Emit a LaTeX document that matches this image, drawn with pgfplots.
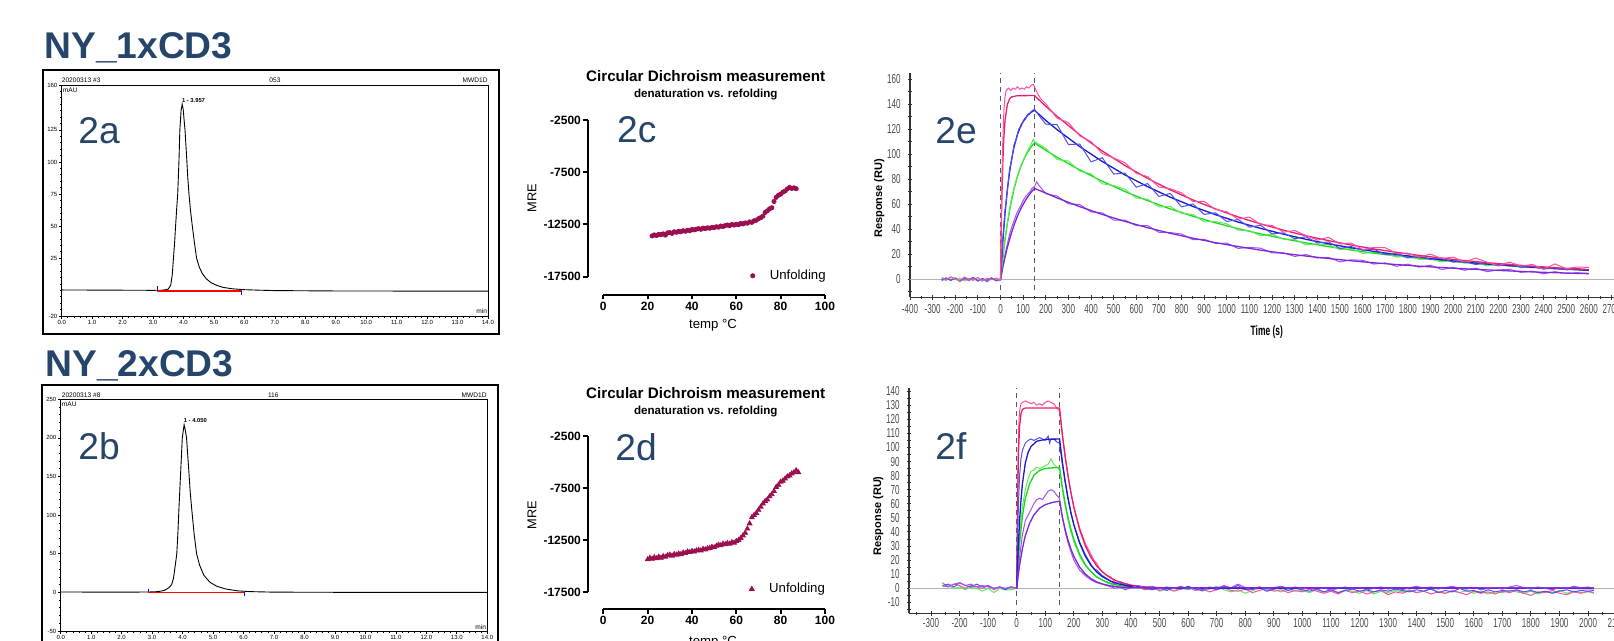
\documentclass[border=0pt]{standalone}
\usepackage{fontspec}
\setmainfont{Liberation Sans}
\newfontfamily\cond[FakeStretch=0.62]{Liberation Sans}
\usepackage{pgfplots}
\pgfplotsset{compat=1.18}
\newcommand{\fs}[1]{\fontsize{#1}{#1}\selectfont}
\definecolor{navy}{RGB}{37,69,107}
\definecolor{cdred}{RGB}{155,15,80}
\definecolor{pinkm}{RGB}{250,80,160}
\definecolor{pinkf}{RGB}{235,30,110}
\definecolor{bluem}{RGB}{80,80,240}
\definecolor{bluef}{RGB}{25,25,205}
\definecolor{greenm}{RGB}{90,235,90}
\definecolor{greenf}{RGB}{30,215,30}
\definecolor{purpm}{RGB}{165,80,240}
\definecolor{purpf}{RGB}{125,40,215}
\pgfplotsset{
  /pgf/number format/assume math mode=true,
  /pgf/number format/1000 sep={},
  hplc/.style={scale only axis, anchor=south west, xmin=0, xmax=14,
    axis line style={line width=0.45pt},
    xtick={0,1,...,14}, minor x tick num=4,
    xticklabel style={/pgf/number format/.cd, fixed, fixed zerofill, precision=1},
    tick align=outside, xtick pos=bottom, ytick pos=left,
    major tick length=1.4pt, minor tick length=0.8pt,
    tick style={line width=0.35pt, black},
    ticklabel style={font=\fs{3}, inner sep=0.6pt}},
  prism/.style={scale only axis, anchor=south west, xmin=-7.04, xmax=100,
    separate axis lines, axis x line*=bottom, axis y line*=left,
    axis line style={line width=1pt},
    x axis line style={shorten <=7.8pt},
    scaled y ticks=false, scaled x ticks=false,
    xtick={0,20,...,100}, ytick={-17500,-12500,-7500,-2500},
    tick align=outside, major tick length=2.2pt,
    tick style={line width=1pt, black},
    ticklabel style={font=\bfseries\fs{6}, inner sep=1pt},
    legend style={draw=none, fill=none, font=\fs{6.6}, inner sep=0pt,
      column sep=5.5pt, legend cell align=left},
    legend image code/.code={\draw[##1, only marks] plot coordinates {(3pt,0pt)};}},
  spr/.style={scale only axis, anchor=south west,
    axis x line*=bottom, axis y line*=left,
    axis line style={line width=0.6pt, black!80, -},
    tick align=center, major tick length=2.4pt, minor tick length=1.6pt,
    tick style={line width=0.5pt, black!80},
    minor tick style={line width=0.4pt, black!80},
    ticklabel style={font=\cond\fs{6.5}, text=black!70}},
}
\begin{document}
\begin{tikzpicture}
\useasboundingbox (0pt,0pt) rectangle (807pt,-320.5pt);

% ---------- 2a : HPLC ----------
\begin{axis}[hplc, width=213.15pt, height=115.5pt, at={(30.85pt,-158pt)},
  ymin=-20, ymax=160,
  ytick={-20,25,50,75,100,125,160}, minor ytick={-15,-10,...,155}]
\addplot[black, line width=0.45pt] coordinates {
  (0,0.3) (1,0.2) (2,0.1) (3,0) (3.3,0.1) (3.42,0.5) (3.5,1) (3.58,4)
  (3.63,12) (3.67,25) (3.71,38) (3.74,50) (3.78,65) (3.81,75) (3.85,100)
  (3.88,125) (3.92,140) (3.957,145) (3.99,141) (4.03,130) (4.05,125)
  (4.1,105) (4.14,88) (4.18,75) (4.23,62) (4.29,50) (4.36,37) (4.43,25)
  (4.52,18) (4.62,13) (4.75,9) (4.9,6) (5.1,3.8) (5.3,2.3) (5.6,1.2)
  (6,0.5) (6.5,0.1) (7,-0.2) (9,-0.5) (12,-0.6) (14,-0.6)};
\addplot[red, line width=0.6pt] coordinates {(3.14,-0.6) (5.91,-0.6)};
\addplot[blue, line width=0.4pt] coordinates {(3.14,-0.6) (3.14,3)};
\addplot[blue, line width=0.4pt] coordinates {(5.91,-3.5) (5.91,-0.6)};
\node[anchor=south west, inner sep=0pt, font=\bfseries\fs{2.9}] at (axis cs:3.94,146) {1 - 3.957};
\end{axis}

% ---------- 2b : HPLC ----------
\begin{axis}[hplc, width=213.3pt, height=115.85pt, at={(30.35pt,-315.5pt)},
  ymin=-50, ymax=250,
  ytick={-50,0,...,250}, minor ytick={-40,-30,...,240}]
\addplot[black, line width=0.45pt] coordinates {
  (0,0.5) (2,0.3) (2.9,0.5) (3.2,1) (3.4,2.5) (3.55,6) (3.64,10) (3.7,18)
  (3.76,35) (3.81,50) (3.85,80) (3.88,108) (3.93,150) (3.99,200) (4.05,217)
  (4.09,210) (4.13,200) (4.2,160) (4.25,130) (4.3,108) (4.38,75) (4.46,50)
  (4.56,35) (4.7,22) (4.9,13) (5.12,8) (5.4,4.5) (5.8,2) (6.2,1) (7,0.3)
  (10,0) (14,0)};
\addplot[red, line width=0.6pt] coordinates {(2.88,0) (6.02,0)};
\addplot[blue, line width=0.4pt] coordinates {(2.88,0) (2.88,5)};
\addplot[blue, line width=0.4pt] coordinates {(6.02,-5) (6.02,0)};
\node[anchor=south west, inner sep=0pt, font=\bfseries\fs{2.9}] at (axis cs:4.03,219) {1 - 4.050};
\end{axis}

% ---------- 2c : CD ----------
\begin{axis}[prism, width=118.65pt, height=87.5pt, at={(293.85pt,-147.5pt)},
  ymin=-19252, ymax=-2500, y axis line style={shorten <=9.15pt},
  legend style={at={(0.685,0.11)}, anchor=west}]
\addplot[only marks, mark=*, mark size=1.05pt, cdred] coordinates {
  (22,-13600) (23,-13500) (24,-13560) (25,-13450) (26,-13480) (27,-13400)
  (28,-13520) (29,-13300) (30,-13280) (31,-13350) (32,-13200) (33,-13250)
  (34,-13150) (35,-13200) (36,-13100) (37,-13150) (38,-13050) (39,-13100)
  (40,-12980) (41,-13020) (42,-12950) (43,-12900) (44,-12960) (45,-12850)
  (46,-12900) (47,-12820) (48,-12860) (49,-12780) (50,-12800) (51,-12720)
  (52,-12760) (53,-12650) (54,-12700) (55,-12600) (56,-12550) (57,-12620)
  (58,-12500) (59,-12560) (60,-12480) (61,-12520) (62,-12400) (63,-12450)
  (64,-12350) (65,-12380) (66,-12250) (67,-12300) (68,-12150) (69,-12100)
  (70,-11950) (71,-11850) (72,-11700) (73,-11350) (74,-11200) (75,-11000)
  (76,-10900) (77,-10300) (78,-9900) (79,-9700) (80,-9600) (81,-9400)
  (82,-9300) (83,-9100) (84,-8950) (85,-9050) (86,-9000) (87,-9080)};
\addlegendentry{Unfolding}
\end{axis}

% ---------- 2d : CD ----------
\begin{axis}[prism, width=118.65pt, height=86.65pt, at={(293.85pt,-304.65pt)},
  ymin=-19131, ymax=-2500, y axis line style={shorten <=8.5pt},
  legend style={at={(0.68,0.117)}, anchor=west}]
\addplot[only marks, mark=triangle*, mark size=1.35pt, cdred] coordinates {
  (20,-14350) (21,-14200) (22,-14300) (23,-14150) (24,-14250) (25,-14100)
  (26,-14200) (27,-14050) (28,-14100) (29,-13950) (30,-13900) (31,-14000)
  (32,-13850) (33,-13900) (34,-13800) (35,-13850) (36,-13700) (37,-13750)
  (38,-13600) (39,-13650) (40,-13550) (41,-13600) (42,-13500) (43,-13450)
  (44,-13500) (45,-13350) (46,-13400) (47,-13300) (48,-13250) (49,-13150)
  (50,-13200) (51,-13050) (52,-12950) (53,-13000) (54,-12850) (55,-12900)
  (56,-12800) (57,-12850) (58,-12700) (59,-12750) (60,-12600) (61,-12500)
  (62,-12300) (63,-12050) (64,-11800) (65,-11400) (66,-10900) (67,-10300)
  (68,-10100) (69,-9900) (70,-9600) (71,-9300) (72,-9000) (73,-8750)
  (74,-8600) (75,-8300) (76,-8100) (77,-7800) (78,-7400) (79,-7200)
  (80,-6900) (81,-6800) (82,-6600) (83,-6400) (84,-6300) (85,-6100)
  (86,-6000) (87,-5800) (88,-6000)};
\addlegendentry{Unfolding}
\end{axis}

% ---------- 2e : SPR ----------
\begin{axis}[spr, width=356.4pt, height=112pt, at={(455pt,-148.65pt)},
  xmin=-400, xmax=2750, ymin=-14.4, ymax=164.8,
  xtick={-400,-300,...,2700}, minor xtick={-350,-250,...,2650},
  ytick={0,20,...,160}, minor ytick={-10,10,...,150},
  xticklabel style={yshift=1.2pt}]
\addplot[black!30, line width=0.7pt] coordinates {(-400,0) (2750,0)};
\addplot[black!65, line width=0.6pt, dash pattern=on 2.5pt off 2pt] coordinates {(0,-8.6) (0,164.8)};
\addplot[black!65, line width=0.6pt, dash pattern=on 2.5pt off 2pt] coordinates {(150,-8.6) (150,164.8)};
% purple
\addplot[purpm, line width=0.5pt] coordinates {
  (-260,-1.0) (-240,0.5) (-220,-0.5) (-200,1.2) (-180,-1.8) (-160,0.3) (-140,-1.0)
  (-120,0.8) (-100,-1.5) (-80,0.2) (-60,-2.0) (-40,0.6) (-20,-1.2) (0,-1.0)
  (10,10) (20,20) (30,28) (40,36) (50,42) (60,47) (70,52) (80,56) (90,59)
  (100,63) (110,66) (120,68) (130,70) (140,73) (150,74) (160,78) (170,75)
  (200,68.5) (250,66.6) (300,60.3) (350,59.9) (400,53.9) (450,53.1) (500,47.4)
  (550,47.3) (600,42.9) (650,42.9) (700,37.6) (750,37.4) (800,36.2) (850,31.7)
  (900,32.0) (950,28.7) (1000,28.9) (1050,24.7) (1100,25.5) (1150,24.9)
  (1200,21.1) (1250,21.2) (1300,18.3) (1350,19.8) (1400,17.0) (1450,17.6)
  (1500,13.9) (1550,15.6) (1600,15.2) (1650,12.2) (1700,13.1) (1750,10.4)
  (1800,12.1) (1850,9.7) (1900,11.3) (1950,7.8) (2000,9.5) (2050,7.2)
  (2100,8.9) (2150,6.1) (2200,7.5) (2250,7.9) (2300,5.5) (2350,6.5)
  (2400,4.4) (2450,6.1) (2500,4.6) (2550,5.3) (2600,4.7)};
\addplot[purpf, line width=0.65pt] coordinates {
  (0,0) (10,9.4) (20,17.8) (30,25.3) (45,35.1) (60,43.5) (75,50.6) (90,56.6)
  (105,61.6) (120,66.0) (135,69.6) (150,72.7) (200,69.0) (250,65.1) (350,58.1)
  (450,51.9) (550,46.3) (650,41.3) (750,36.8) (850,32.9) (950,29.3) (1050,26.2)
  (1150,23.3) (1250,20.8) (1350,18.6) (1450,16.6) (1550,14.8) (1650,13.2)
  (1750,11.8) (1850,10.5) (1950,9.4) (2050,8.4) (2150,7.5) (2250,6.7)
  (2350,5.9) (2450,5.3) (2550,4.7) (2600,4.5)};
% green
\addplot[greenf, line width=0.65pt] coordinates {
  (0,0) (10,17.0) (20,31.6) (30,44.2) (45,59.9) (60,72.4) (75,82.4) (90,90.4)
  (105,96.7) (120,101.8) (135,105.9) (150,109.1) (200,103.2) (250,97.6)
  (350,87.5) (450,78.4) (550,70.2) (650,62.9) (750,56.3) (850,50.5) (950,45.2)
  (1050,40.5) (1150,36.3) (1250,32.5) (1350,29.1) (1450,26.1) (1550,23.4)
  (1650,20.9) (1750,18.7) (1850,16.8) (1950,15.1) (2050,13.5) (2150,12.1)
  (2250,10.8) (2350,9.7) (2450,8.7) (2550,7.8) (2600,7.4)};
\addplot[greenm, line width=0.5pt] coordinates {
  (-260,0.8) (-240,-1.0) (-220,1.5) (-200,-0.5) (-180,1.0) (-160,-1.2) (-140,0.4)
  (-120,1.2) (-100,-0.8) (-80,0.5) (-60,-1.0) (-40,1.0) (-20,-0.4) (0,-0.5)
  (10,18) (20,33) (30,45) (40,56) (50,66) (60,73) (70,80) (80,86) (90,91)
  (100,95) (110,99) (120,103) (130,106) (140,110) (145,112) (150,110) (170,108)
  (200,104.7) (250,95.8) (300,94.6) (350,86.5) (400,84.4) (450,76.4) (500,75.0)
  (550,72.0) (600,65.0) (650,64.1) (700,57.9) (750,58.3) (800,52.7) (850,51.9)
  (900,46.0) (950,46.2) (1000,44.4) (1050,39.3) (1100,38.9) (1150,34.8)
  (1200,36.1) (1250,32.1) (1300,32.0) (1350,27.5) (1400,28.4) (1450,27.6)
  (1500,23.7) (1550,24.6) (1600,20.7) (1650,21.5) (1700,21.0) (1750,17.7)
  (1800,19.1) (1850,16.0) (1900,16.3) (1950,13.9) (2000,15.8) (2050,12.9)
  (2100,13.8) (2150,10.7) (2200,12.2) (2250,12.0) (2300,9.2) (2350,10.3)
  (2400,8.4) (2450,9.7) (2500,7.7) (2550,8.6) (2600,7.1)};
% blue
\addplot[bluef, line width=0.65pt] coordinates {
  (0,0) (10,29.7) (20,53.0) (30,71.3) (40,85.8) (50,97.1) (60,106.1) (75,116.0)
  (90,123.0) (105,127.8) (120,131.2) (135,133.6) (150,135.2) (200,127.1)
  (250,119.7) (350,106.2) (450,94.2) (550,83.5) (650,74.1) (750,65.7)
  (850,58.3) (950,51.7) (1050,45.8) (1150,40.7) (1250,36.1) (1350,32.0)
  (1450,28.4) (1550,25.2) (1650,22.3) (1750,19.8) (1850,17.6) (1950,15.6)
  (2050,13.8) (2150,12.2) (2250,10.9) (2350,9.6) (2450,8.5) (2550,7.6) (2600,7.1)};
\addplot[bluem, line width=0.5pt] coordinates {
  (-260,-0.5) (-240,1.2) (-220,-1.0) (-200,0.8) (-180,-1.5) (-160,1.0) (-140,-0.3)
  (-120,1.5) (-100,-1.2) (-80,0.6) (-60,-0.8) (-40,1.2) (-20,-1.0) (0,0)
  (10,32) (20,55) (30,70) (40,88) (50,96) (60,108) (70,112) (80,120) (90,122)
  (100,126) (110,128) (120,132) (130,133) (140,135) (150,136) (170,131)
  (200,124.1) (250,123.7) (300,107.8) (350,108.2) (400,94.0) (450,97.2)
  (500,84.2) (550,85.0) (600,73.7) (650,76.6) (700,66.3) (750,68.7) (800,57.9)
  (850,60.3) (900,51.9) (950,53.2) (1000,46.2) (1050,47.8) (1100,41.7)
  (1150,43.2) (1200,36.3) (1250,37.1) (1300,32.5) (1350,34.0) (1400,29.1)
  (1450,29.9) (1500,24.7) (1550,26.2) (1600,23.2) (1650,24.1) (1700,19.8)
  (1750,20.6) (1800,17.1) (1850,18.8) (1900,15.9) (1950,17.0) (2000,13.7)
  (2050,14.3) (2100,11.8) (2150,13.2) (2200,10.7) (2250,12.1) (2300,9.7)
  (2350,10.4) (2400,8.1) (2450,9.1) (2500,7.6) (2550,8.5) (2600,7.6)};
% pink
\addplot[pinkf, line width=0.65pt] coordinates {
  (0,0) (5,57.8) (10,92.9) (15,114.2) (20,127.1) (30,139.7) (40,144.3) (50,146.0)
  (75,146.9) (150,147.0) (200,138.4) (250,130.4) (350,115.6) (450,102.6)
  (550,91.0) (650,80.7) (750,71.6) (850,63.5) (950,56.3) (1050,49.9) (1150,44.3)
  (1250,39.3) (1350,34.8) (1450,30.9) (1550,27.4) (1650,24.3) (1750,21.6)
  (1850,19.1) (1950,16.9) (2050,15.0) (2150,13.3) (2250,11.8) (2350,10.5)
  (2450,9.3) (2550,8.2) (2600,7.8)};
\addplot[pinkm, line width=0.5pt] coordinates {
  (-260,1.5) (-240,-0.5) (-220,2.0) (-200,0.3) (-180,-1.2) (-160,1.8) (-140,0.2)
  (-120,-0.8) (-100,1.5) (-80,-1.5) (-60,0.8) (-40,-0.3) (-20,1.0) (0,-0.5)
  (5,70) (10,110) (15,135) (20,146) (25,151) (35,153) (45,151) (55,153) (65,152)
  (75,154) (85,152) (95,153) (105,152) (115,154) (125,153) (135,155) (145,156)
  (150,154) (165,148) (180,144)
  (200,140.4) (250,128.9) (300,125.3) (350,114.8) (400,110.1) (450,100.6)
  (500,97.1) (550,93.2) (600,84.7) (650,82.2) (700,73.8) (750,72.4) (800,69.2)
  (850,62.3) (900,62.3) (950,55.8) (1000,54.0) (1050,48.1) (1100,49.8)
  (1150,43.7) (1200,43.1) (1250,37.7) (1300,39.0) (1350,35.0) (1400,31.4)
  (1450,33.5) (1500,28.3) (1550,29.0) (1600,23.8) (1650,25.5) (1700,25.3)
  (1750,20.6) (1800,20.9) (1850,17.5) (1900,20.2) (1950,16.5) (2000,17.8)
  (2050,13.8) (2100,17.0) (2150,13.7) (2200,11.1) (2250,13.8) (2300,10.5)
  (2350,11.9) (2400,8.1) (2450,12.3) (2500,8.6) (2550,9.8) (2600,9.5)};
\end{axis}

% ---------- 2f : SPR ----------
\begin{axis}[spr, width=355.25pt, height=112.8pt, at={(454.5pt,-306.65pt)},
  xmin=-377, xmax=2110, ymin=-17.7, ymax=142.4,
  xtick={-300,-200,...,2100}, minor xtick={-350,-250,...,2050},
  ytick={-10,0,...,140}, minor ytick={-15,-5,...,135},
  xticklabel style={yshift=2pt}]
\addplot[black!30, line width=0.7pt] coordinates {(-377,0) (2110,0)};
\addplot[black!65, line width=0.6pt, dash pattern=on 2.5pt off 2pt] coordinates {(0,-11.9) (0,142.4)};
\addplot[black!65, line width=0.6pt, dash pattern=on 2.5pt off 2pt] coordinates {(150,-11.9) (150,142.4)};
% green
\addplot[greenm, line width=0.5pt] coordinates {
  (-260,1) (-240,2) (-220,0) (-200,1) (-180,-1) (-160,1) (-140,0) (-120,-2)
  (-100,0) (-80,-3) (-60,0) (-40,-1) (-20,-1) (0,0)
  (5,20) (10,38) (20,58) (30,70) (40,78) (50,83) (60,84) (70,86) (80,85) (90,86)
  (100,87) (110,88) (120,92) (130,88) (140,86) (150,84)
  (160,70) (170,58) (180,48) (190,40) (200,33) (220,23) (240,16) (260,12)
  (280,8) (300,6) (315,4) (330,3) (345,1) (360,2) (380,0) (400,1)
  (425,0.5) (450,-1) (475,1) (500,-2) (525,-0.5) (550,-1.5) (575,0) (600,-1)
  (625,0.5) (650,-2) (675,-0.5) (700,1.5) (725,-1) (750,-2.5) (775,-1) (800,-3.5)
  (825,-1.5) (850,0) (875,-2) (900,-1) (925,-2.5) (950,-0.5) (975,-2) (1000,-1.5)
  (1025,-3) (1050,-1) (1075,-2.5) (1100,-1.5) (1125,-3) (1150,-1) (1175,-2)
  (1200,-3.5) (1225,-1.5) (1250,-4) (1275,-2) (1300,-3) (1325,-1.5) (1350,-2.5)
  (1375,-1) (1400,-3) (1425,-2) (1450,0.5) (1475,-2.5) (1500,-3.5) (1525,-2)
  (1550,-3) (1575,-1.5) (1600,-3.5) (1625,-2) (1650,-4) (1675,-2.5) (1700,-3)
  (1725,-1.5) (1750,-2.5) (1775,-3.5) (1800,-2) (1825,-4) (1850,-2.5) (1875,-3)
  (1900,-1.5) (1925,-3.5) (1950,-2) (1975,-3) (2000,-2.5) (2020,-3.5)};
\addplot[greenf, line width=0.65pt] coordinates {
  (0,0) (5,17.6) (10,31.7) (20,51.0) (30,63.8) (45,74.1) (60,80.2) (80,83.7)
  (100,85.1) (150,85.9) (160,71.7) (170,59.9) (180,50.0) (190,41.7) (200,34.8)
  (220,24.3) (240,16.9) (260,11.8) (280,8.2) (300,5.8) (330,3.4) (360,2.0)
  (400,1.0) (450,0.4) (2020,0)};
% pink
\addplot[pinkm, line width=0.5pt] coordinates {
  (-260,4) (-240,1) (-220,3) (-200,2) (-180,0) (-160,2) (-140,1) (-120,0)
  (-100,2) (-80,-1) (-60,1) (-40,0) (-20,1) (0,0)
  (3,60) (6,110) (10,126) (15,131) (20,132) (30,133) (40,132) (50,131) (60,132)
  (70,130) (80,131) (90,130) (100,132) (110,133) (120,132) (130,131) (140,128)
  (150,126) (160,108) (170,93) (180,80) (190,68) (200,58) (220,43) (240,32)
  (260,24) (270,20) (280,18) (290,14) (300,12) (315,9) (330,8) (345,4) (360,5)
  (380,3) (400,2)
  (425,1) (450,-1) (475,0.5) (500,-1.5) (525,0) (550,-2) (575,-0.5) (600,1)
  (625,-1.5) (650,-0.5) (675,-2.5) (700,-1) (725,0.5) (750,-1.5) (775,-2)
  (800,-0.5) (825,-3) (850,-1.5) (875,0) (900,-2) (925,-1) (950,-3) (975,-1.5)
  (1000,-2.5) (1025,-0.5) (1050,-2) (1075,-3.5) (1100,-2) (1125,-4) (1150,-1.5)
  (1175,-3) (1200,-2) (1225,-4) (1250,-2.5) (1275,-1.5) (1300,-4.5) (1325,-2.5)
  (1350,-3.5) (1375,-1.5) (1400,-3) (1425,-2) (1450,-4) (1475,-2.5) (1500,-3.5)
  (1525,-1.5) (1550,-3) (1575,-4.5) (1600,-2) (1625,-3.5) (1650,-2.5) (1675,-4)
  (1700,-2) (1725,-3) (1750,-1.5) (1775,-3.5) (1800,-5) (1825,-2.5) (1850,-3)
  (1875,-1.5) (1900,-3.5) (1925,-4.5) (1950,-2.5) (1975,-3.5) (2000,-2) (2020,-3)};
\addplot[pinkf, line width=0.65pt] coordinates {
  (0,0) (3,60) (6,95) (10,115) (15,124) (20,127) (30,128) (150,128) (160,109.1)
  (170,93.0) (180,79.2) (190,67.5) (200,57.5) (220,41.8) (240,30.3) (260,22.0)
  (280,16.0) (300,11.6) (330,7.2) (360,4.5) (400,2.3) (450,1.0) (500,0.5)
  (600,0.1) (2020,0)};
% blue
\addplot[bluem, line width=0.5pt] coordinates {
  (-260,2) (-240,3) (-220,1) (-200,4) (-180,2) (-160,1) (-140,3) (-120,1)
  (-100,2) (-80,0) (-60,1) (-40,-1) (-20,1) (0,0)
  (3,30) (6,60) (10,80) (15,92) (20,98) (30,103) (40,105) (50,106) (60,105)
  (70,106) (80,107) (90,106) (100,105) (110,108) (115,103) (120,106) (130,106)
  (140,104) (150,103) (160,88) (170,75) (180,63) (190,53) (200,45) (220,33)
  (240,24) (260,17) (270,14) (280,13) (300,9) (315,7) (330,5) (345,3) (360,4)
  (380,2) (400,1)
  (425,1.5) (450,0) (475,-1) (500,0.5) (525,-1.5) (550,0.5) (575,-0.5) (600,1.5)
  (625,-0.5) (650,-1.5) (675,0.5) (700,-1) (725,1.5) (750,0) (775,2) (800,-1)
  (825,-0.5) (850,1) (875,-2) (900,-0.5) (925,0.5) (950,-1.5) (975,0) (1000,-1)
  (1025,-2) (1050,-0.5) (1075,-2.5) (1100,-1) (1125,-3) (1150,-1.5) (1175,-0.5)
  (1200,-2) (1225,-1) (1250,-2.5) (1275,-1) (1300,-2) (1325,-0.5) (1350,-1.5)
  (1375,-2.5) (1400,-1) (1425,-2) (1450,-0.5) (1475,-3) (1500,-1.5) (1525,-2.5)
  (1550,0) (1575,-2) (1600,-1.5) (1625,-3) (1650,-1) (1675,-2.5) (1700,-1.5)
  (1725,-2) (1750,-1) (1775,-2.5) (1800,-1.5) (1825,-3) (1850,-2) (1875,-3.5)
  (1900,-2) (1925,-1) (1950,-2.5) (1975,-1.5) (2000,-2) (2020,-1.5)};
\addplot[bluef, line width=0.65pt] coordinates {
  (0,0) (5,27.6) (10,47.8) (15,62.7) (20,74.2) (30,88.8) (40,96.5) (50,100.7)
  (70,104.4) (100,105.7) (150,106) (160,89.4) (170,75.4) (180,63.6) (190,53.6)
  (200,45.2) (220,32.2) (240,22.9) (260,16.3) (280,11.6) (300,8.3) (330,5.0)
  (360,3.0) (400,1.5) (450,0.6) (500,0.2) (2020,0)};
% purple
\addplot[purpm, line width=0.5pt] coordinates {
  (-260,2) (-240,1) (-220,3) (-200,4) (-180,2) (-160,3) (-140,1) (-120,2)
  (-100,1) (-80,0) (-60,1) (-40,0) (-20,1) (0,0)
  (5,12) (10,22) (20,38) (30,48) (40,52) (50,56) (60,60) (70,63) (80,64) (90,63)
  (100,66) (110,69) (120,70) (130,69) (140,66) (150,64) (160,50) (170,40)
  (180,32) (190,26) (200,20) (220,13) (240,9) (260,6) (280,4) (300,3) (315,2)
  (330,1) (345,0) (360,1) (380,-1) (400,0.5)
  (425,2) (450,0.5) (475,1.5) (500,-0.5) (525,1) (550,0) (575,1.5) (600,-0.5)
  (625,0.5) (650,-1) (675,1) (700,0) (725,2) (750,0.5) (775,3) (800,0.5)
  (825,-1) (850,1) (875,-0.5) (900,0.5) (925,1.5) (950,0) (975,1) (1000,-0.5)
  (1025,0.5) (1050,-1) (1075,0.5) (1100,-1.5) (1125,0) (1150,1) (1175,-0.5)
  (1200,0.5) (1225,-1) (1250,0) (1275,1) (1300,-0.5) (1325,0.5) (1350,-1)
  (1375,0.5) (1400,1.5) (1425,0) (1450,1) (1475,-0.5) (1500,0.5) (1525,1.5)
  (1550,0) (1575,-0.5) (1600,0.5) (1625,-1) (1650,0) (1675,0.5) (1700,-0.5)
  (1725,1) (1750,2) (1775,0.5) (1800,-0.5) (1825,1) (1850,0) (1875,-1)
  (1900,0.5) (1925,0) (1950,1.5) (1975,0.5) (2000,1) (2020,0)};
\addplot[purpf, line width=0.65pt] coordinates {
  (0,0) (5,8.7) (10,16.2) (20,28.2) (30,37.3) (45,46.1) (60,52.1) (80,56.9)
  (100,59.4) (125,61.0) (150,61.8) (160,50.6) (170,41.4) (180,33.9) (190,27.8)
  (200,22.7) (220,15.2) (240,10.2) (260,6.9) (280,4.6) (300,3.1) (330,1.7)
  (360,0.9) (400,0.4) (2020,0.3)};
\end{axis}

% ---------- texts and frames (pixel units) ----------
\begin{scope}[x=0.5pt, y=-0.5pt]
\node[anchor=base west, inner sep=0pt, font=\bfseries\fs{18.6}, text=navy] at (44,58.3) {NY\_1xCD3};
\node[anchor=base west, inner sep=0pt, font=\bfseries\fs{18.6}, text=navy] at (45,377) {NY\_2xCD3};
\draw[line width=1pt] (43,70) rectangle (499,334);
\draw[line width=1pt] (41.7,385) rectangle (498,660);
\draw[line width=0.45pt] (61.7,85) -- (488,85) -- (488,316);
\draw[line width=0.45pt] (60.7,399.3) -- (487.3,399.3) -- (487.3,631);
\foreach \yy/\lab in {80/{20200313 \#3}, 395/{20200313 \#8}} {
  \node[anchor=west, inner sep=0pt, font=\fs{3.3}] at (61.5,\yy) {\lab};}
\node[inner sep=0pt, font=\fs{3.3}] at (275,80) {053};
\node[inner sep=0pt, font=\fs{3.3}] at (273.3,395) {116};
\node[anchor=east, inner sep=0pt, font=\fs{3.3}] at (488,80) {MWD1D};
\node[anchor=east, inner sep=0pt, font=\fs{3.3}] at (487,395) {MWD1D};
\node[anchor=west, inner sep=0pt, font=\fs{3.3}] at (62.5,89.8) {mAU};
\node[anchor=west, inner sep=0pt, font=\fs{3.3}] at (61.5,404.3) {mAU};
\node[anchor=east, inner sep=0pt, font=\fs{3.3}] at (487.5,311.5) {min};
\node[anchor=east, inner sep=0pt, font=\fs{3.3}] at (486.5,627.5) {min};
\foreach \xx/\yy/\lab in {78/143.3/2a, 78/460/2b, 616.7/142.7/2c, 615/460.7/2d, 935/143.3/2e, 935/460/2f} {
  \node[anchor=base west, inner sep=0pt, font=\fs{18.6}, text=navy] at (\xx,\yy) {\lab};}
\foreach \yy in {0, 317} {
  \node[anchor=base, inner sep=0pt, font=\bfseries\fs{7.6}] at (705.7,81.7+\yy) {Circular Dichroism measurement};
  \node[anchor=base, inner sep=0pt, font=\bfseries\fs{5.8}] at (705.8,97.7+\yy) {denaturation vs. refolding};
  \node[rotate=90, inner sep=0pt, font=\fs{6.4}] at (532,198+\yy) {MRE};
  \node[inner sep=0pt, font=\fs{6.6}] at (713,325+\yy) {temp °C};}
\node[rotate=90, inner sep=0pt, font=\bfseries\fs{5.5}] at (879.3,198.3) {Response (RU)};
\node[rotate=90, inner sep=0pt, font=\bfseries\fs{5.5}] at (878.3,515.8) {Response (RU)};
\node[anchor=base, inner sep=0pt, font=\cond\bfseries\fs{6.8}] at (1266.8,335.5) {Time (s)};
\end{scope}
\end{tikzpicture}
\end{document}
